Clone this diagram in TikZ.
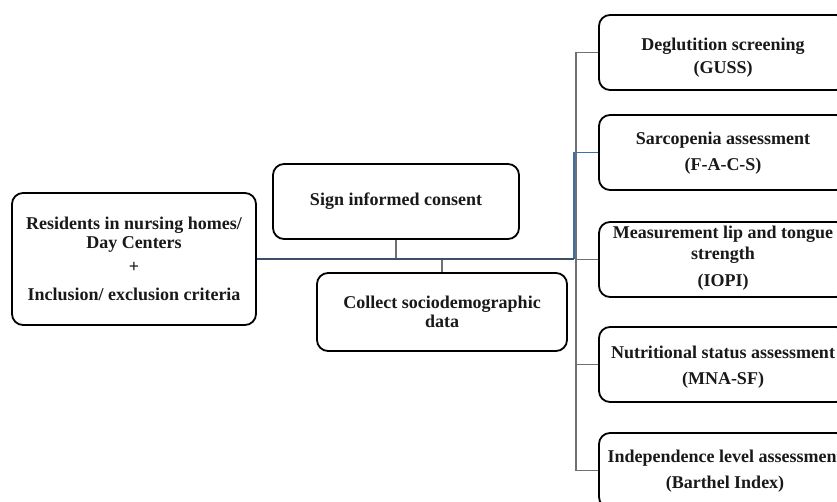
\documentclass[tikz,border=0pt]{standalone}
\usepackage{fontspec}
\setmainfont{Liberation Serif}
\begin{document}
\begin{tikzpicture}[x=1pt,y=-1pt,
  rbox/.style={draw=black,line width=1.8pt,rounded corners=11pt,fill=white,inner sep=0pt},
  txt/.style={font=\bfseries\fontsize{18}{19}\selectfont,align=center,inner sep=0pt,text=black!90},
  mainline/.style={draw=black!55!blue!45!gray,line width=1.8pt,color={rgb,255:red,58;green,80;blue,104}},
  blueline/.style={line width=1.6pt,color={rgb,255:red,60;green,110;blue,168}},
  grayline/.style={line width=1.4pt,color={rgb,255:red,112;green,112;blue,112}}]
\useasboundingbox[clip] (0,0) rectangle (837,501);
\fill[white] (0,0) rectangle (837,501);

% left boxes
\node[rbox,minimum width=244pt,minimum height=132pt,txt] (left) at (134,259)
  {Residents in nursing homes/\\Day Centers\\[5pt]+\\[9pt]Inclusion/ exclusion criteria};
\node[rbox,minimum width=246pt,minimum height=75pt,txt] (sign) at (396,201.5) {Sign informed consent};
\node[rbox,minimum width=250pt,minimum height=78pt,txt] (collect) at (442,312)
  {Collect sociodemographic\\data};

% right boxes
\node[rbox,minimum width=248pt,minimum height=75pt] (b1) at (723,52.5) {};
\node[rbox,minimum width=248pt,minimum height=75pt] (b2) at (723,152.5) {};
\node[rbox,minimum width=248pt,minimum height=75pt] (b3) at (723,259.5) {};
\node[rbox,minimum width=248pt,minimum height=75pt] (b4) at (723,364.5) {};
\node[rbox,minimum width=248pt,minimum height=75pt] (b5) at (723,470.5) {};

\node[txt] (t1) at (723,58) {Deglutition screening\\[4pt](GUSS)};
\node[txt] (t2) at (723,153) {Sarcopenia assessment\\[7pt](F-A-C-S)};
\node[txt] (t3) at (723,258) {Measurement lip and tongue\\[2pt]strength\\[8pt](IOPI)};
\node[txt] (t4) at (723,367) {Nutritional status assessment\\[7pt](MNA-SF)};
\node[txt] (t5) at (725,471) {Independence level assessment\\[7pt](Barthel Index)};

% junction coordinates
\coordinate (jg) at (576,259);
\coordinate (jb) at (574,259);

% connectors
\draw[grayline] (b1.west) -- (b1.west -| jg) -- (b5.west -| jg) -- (b5.west);
\draw[grayline] (b3.west) -- (b3.west -| jg);
\draw[grayline] (b4.west) -- (b4.west -| jg);
\draw[grayline] (sign.south) -- (sign.south |- jb);
\draw[grayline] (collect.north) -- (collect.north |- jb);
\draw[blueline] (jb) -- (jb |- b2.west) -- (b2.west);
\draw[mainline] (left.east) -- (jb);
\end{tikzpicture}
\end{document}
